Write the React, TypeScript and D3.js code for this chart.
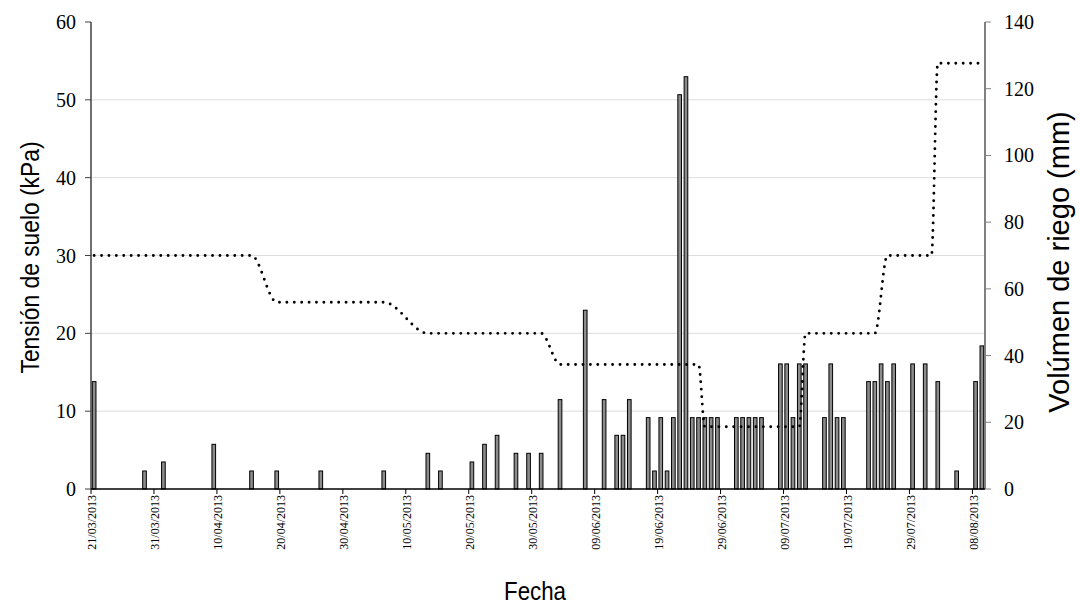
import React, { useEffect, useRef } from "react";
import * as d3 from "d3";

// irrigation events: date (dd/mm/2013) and volume in mm (right axis)
const riegoFechas = [
  "21/03", "29/03", "01/04", "09/04", "15/04", "19/04", "26/04", "06/05", "13/05", "15/05",
  "20/05", "22/05", "24/05", "27/05", "29/05", "31/05", "03/06", "07/06", "10/06", "12/06",
  "13/06", "14/06", "17/06", "18/06", "19/06", "20/06", "21/06", "22/06", "23/06", "24/06",
  "25/06", "26/06", "27/06", "28/06", "01/07", "02/07", "03/07", "04/07", "05/07", "08/07",
  "09/07", "10/07", "11/07", "12/07", "15/07", "16/07", "17/07", "18/07", "22/07", "23/07",
  "24/07", "25/07", "26/07", "29/07", "31/07", "02/08", "05/08", "08/08", "09/08",
];
const riegoMm = [
  32.2, 5.4, 8.1, 13.4, 5.4, 5.4, 5.4, 5.4, 10.7, 5.4,
  8.1, 13.4, 16.1, 10.7, 10.7, 10.7, 26.8, 53.6, 26.8, 16.1,
  16.1, 26.8, 21.4, 5.4, 21.4, 5.4, 21.4, 118.2, 123.6, 21.4,
  21.4, 21.4, 21.4, 21.4, 21.4, 21.4, 21.4, 21.4, 21.4, 37.5,
  37.5, 21.4, 37.5, 37.5, 21.4, 37.5, 21.4, 21.4, 32.2, 32.2,
  37.5, 32.2, 37.5, 37.5, 37.5, 32.2, 5.4, 32.2, 42.9,
];

// soil tension (kPa, left axis) at the days where the level changes
const tensionFechas = [
  "21/03", "15/04", "19/04", "06/05", "13/05", "31/05", "03/06", "25/06",
  "26/06", "11/07", "12/07", "23/07", "25/07", "01/08", "02/08", "09/08",
];
const tensionKpa = [30, 30, 24, 24, 20, 20, 16, 16, 8, 8, 20, 20, 30, 30, 54.7, 54.7];

const xTicks = [
  "21/03/2013", "31/03/2013", "10/04/2013", "20/04/2013", "30/04/2013", "10/05/2013",
  "20/05/2013", "30/05/2013", "09/06/2013", "19/06/2013", "29/06/2013", "09/07/2013",
  "19/07/2013", "29/07/2013", "08/08/2013",
];
const leftTicks = [0, 10, 20, 30, 40, 50, 60];
const rightTicks = [0, 20, 40, 60, 80, 100, 120, 140];

const parse = (s: string) => {
  const [d, m, y] = s.split("/");
  return new Date(Date.UTC(y ? +y : 2013, +m - 1, +d));
};
const DAY = 24 * 3600 * 1000;

const App = () => {
  const svgRef = useRef<SVGSVGElement>(null);

  useEffect(() => {
    const svg = d3.select(svgRef.current);
    svg.selectAll("*").remove();

    const left = 91, right = 985, top = 22, bottom = 489;
    const serif = "'Liberation Serif', 'Times New Roman', serif";
    const sans = "'Liberation Sans', Arial, sans-serif";

    const x = d3.scaleUtc().domain([parse("21/03/2013"), parse("10/08/2013")]).range([left, right]);
    const yL = d3.scaleLinear().domain([0, 60]).range([bottom, top]);
    const yR = d3.scaleLinear().domain([0, 140]).range([bottom, top]);
    const mid = (s: string) => x(new Date(+parse(s) + DAY / 2));
    const dayW = x(parse("22/03/2013")) - x(parse("21/03/2013"));

    // grid
    svg.append("g")
      .selectAll("line")
      .data(leftTicks.filter((t) => t > 0 && t < 60))
      .join("line")
      .attr("x1", left).attr("x2", right)
      .attr("y1", (d) => yL(d)).attr("y2", (d) => yL(d))
      .attr("stroke", "#dcdcdc").attr("stroke-width", 1);

    // bars
    const bw = dayW * 0.58;
    svg.append("g")
      .selectAll("rect")
      .data(riegoFechas.map((f, i) => ({ f, v: riegoMm[i] })))
      .join("rect")
      .attr("x", (d) => mid(d.f) - bw / 2)
      .attr("width", bw)
      .attr("y", (d) => yR(d.v))
      .attr("height", (d) => bottom - yR(d.v))
      .attr("fill", "#8c8c8c")
      .attr("stroke", "#000")
      .attr("stroke-width", 1);

    // tension line
    const line = d3.line<[string, number]>()
      .x((d) => mid(d[0]))
      .y((d) => yL(d[1]))
      .curve(d3.curveMonotoneX);
    svg.append("path")
      .datum(tensionFechas.map((f, i) => [f, tensionKpa[i]] as [string, number]))
      .attr("d", line)
      .attr("fill", "none")
      .attr("stroke", "#000")
      .attr("stroke-width", 2.9)
      .attr("stroke-linecap", "round")
      .attr("stroke-dasharray", "0 7.4");

    // left axis
    const gl = svg.append("g").attr("transform", `translate(${left},0)`);
    gl.append("line").attr("y1", top).attr("y2", bottom).attr("stroke", "#404040").attr("stroke-width", 1.5);
    gl.selectAll(".t").data(leftTicks).join("line")
      .attr("x1", -6).attr("x2", 0)
      .attr("y1", (d) => yL(d)).attr("y2", (d) => yL(d))
      .attr("stroke", "#404040");
    gl.selectAll("text").data(leftTicks).join("text")
      .attr("x", -15).attr("y", (d) => yL(d)).attr("dy", "0.35em")
      .attr("text-anchor", "end")
      .style("font", `20px ${serif}`)
      .text((d) => d);

    // right axis
    const gr = svg.append("g").attr("transform", `translate(${right},0)`);
    gr.append("line").attr("y1", top).attr("y2", bottom).attr("stroke", "#808080").attr("stroke-width", 2);
    gr.selectAll(".t").data(rightTicks).join("line")
      .attr("x1", 0).attr("x2", 6)
      .attr("y1", (d) => yR(d)).attr("y2", (d) => yR(d))
      .attr("stroke", "#808080");
    gr.selectAll("text").data(rightTicks).join("text")
      .attr("x", 19).attr("y", (d) => yR(d)).attr("dy", "0.35em")
      .style("font", `20px ${serif}`)
      .text((d) => d);

    // bottom axis
    const gb = svg.append("g");
    gb.append("line").attr("x1", left).attr("x2", right).attr("y1", bottom).attr("y2", bottom)
      .attr("stroke", "#000").attr("stroke-width", 1.5);
    gb.selectAll(".t").data(xTicks).join("line")
      .attr("x1", (d) => x(parse(d))).attr("x2", (d) => x(parse(d)))
      .attr("y1", bottom).attr("y2", bottom + 5)
      .attr("stroke", "#000");
    gb.selectAll("text").data(xTicks).join("text")
      .attr("transform", (d) => `translate(${x(parse(d)) + 1},${bottom + 6}) rotate(-90)`)
      .attr("dy", "0.35em")
      .attr("text-anchor", "end")
      .style("font", `12px ${serif}`)
      .text((d) => d);

    // titles
    svg.append("text")
      .attr("transform", `translate(39,257.5) rotate(-90)`)
      .attr("text-anchor", "middle")
      .attr("textLength", 232)
      .attr("lengthAdjust", "spacingAndGlyphs")
      .style("font", `26px ${sans}`)
      .text("Tensión de suelo (kPa)");
    svg.append("text")
      .attr("transform", `translate(1069,262) rotate(-90)`)
      .attr("text-anchor", "middle")
      .style("font", `29px ${sans}`)
      .text("Volúmen de riego (mm)");
    svg.append("text")
      .attr("x", 535).attr("y", 600)
      .attr("text-anchor", "middle")
      .attr("textLength", 62)
      .attr("lengthAdjust", "spacingAndGlyphs")
      .style("font", `26px ${sans}`)
      .text("Fecha");
  }, []);

  return (
    <svg
      ref={svgRef}
      width={1080}
      height={608}
      style={{ position: "absolute", left: 0, top: 0, background: "#fff" }}
    />
  );
};

export default App;
